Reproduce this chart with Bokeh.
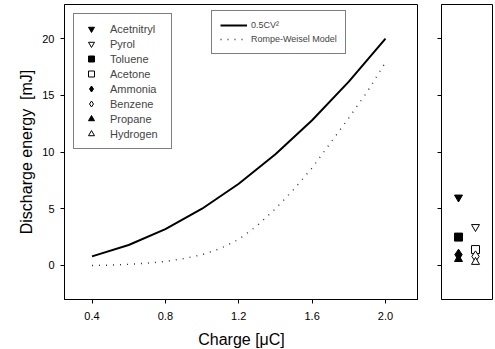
from bokeh.plotting import figure
from bokeh.layouts import row
from bokeh.models import Legend, LegendItem, FixedTicker, Range1d, ColumnDataSource
from bokeh.embed import file_html
from bokeh.resources import INLINE

# ---- data ----
charge_cv2 = [0.4, 0.6, 0.8, 1.0, 1.2, 1.4, 1.6, 1.8, 2.0]
energy_cv2 = [0.8, 1.8, 3.2, 5.0, 7.2, 9.8, 12.8, 16.2, 20.0]

charge_rw = [0.4, 0.5, 0.6, 0.7, 0.8, 0.9, 1.0, 1.1, 1.2, 1.3, 1.4, 1.5, 1.6, 1.7, 1.8, 1.9, 2.0]
energy_rw = [0.0, 0.03, 0.1, 0.2, 0.35, 0.6, 0.95, 1.5, 2.3, 3.5, 5.0, 6.7, 8.6, 10.8, 13.0, 15.3, 17.9]

gases = ["Acetnitryl", "Pyrol", "Toluene", "Acetone", "Ammonia", "Benzene", "Propane", "Hydrogen"]
gas_energy = [6.0, 3.4, 2.5, 1.4, 0.95, 0.8, 0.55, 0.3]
gas_marker = ["inverted_triangle", "inverted_triangle", "square", "square",
              "diamond", "diamond", "triangle", "triangle"]
gas_filled = [True, False, True, False, True, False, True, False]

x_ticks = [0.4, 0.8, 1.2, 1.6, 2.0]
x_tick_labels = ["0.4", "0.8", "1.2", "1.6", "2.0"]
y_ticks = [0, 5, 10, 15, 20]
y_tick_labels = ["0", "5", "10", "15", "20"]

FONT = "Liberation Sans"

src = ColumnDataSource(dict(
    name=gases,
    energy=gas_energy,
    marker=gas_marker,
    fill=["black" if f else "white" for f in gas_filled],
    size=[11 if m == "diamond" else 8 for m in gas_marker],
    xpos=[1 if f else 2 for f in gas_filled],
))

# ---- main plot ----
p1 = figure(width=410, height=349, x_range=Range1d(0.25, 2.18), y_range=Range1d(-3, 23),
            output_backend="svg", toolbar_location=None,
            min_border_left=56, min_border_right=0, min_border_top=0, min_border_bottom=54)
p1.xgrid.visible = False
p1.ygrid.visible = False
p1.outline_line_color = "black"
p1.outline_line_width = 1

for ax in (p1.xaxis[0], p1.yaxis[0]):
    ax.axis_line_color = "black"
    ax.major_tick_line_color = "black"
    ax.minor_tick_line_color = None
    ax.major_tick_out = 4
    ax.major_tick_in = 0
    ax.major_label_text_font = FONT
    ax.major_label_text_font_size = "11px"
    ax.major_label_text_color = "black"
    ax.axis_label_text_font = FONT
    ax.axis_label_text_font_size = "16px"
    ax.axis_label_text_font_style = "normal"
    ax.axis_label_text_color = "black"

p1.xaxis.ticker = FixedTicker(ticks=x_ticks)
p1.xaxis.major_label_overrides = dict(zip(x_ticks, x_tick_labels))
p1.yaxis.ticker = FixedTicker(ticks=y_ticks)
p1.yaxis.major_label_overrides = dict(zip(y_ticks, y_tick_labels))
p1.xaxis.axis_label = "Charge [\u03bcC]"
p1.yaxis.axis_label = "Discharge energy\u00a0\u00a0[mJ]"
p1.xaxis.major_label_standoff = 8
p1.xaxis.axis_label_standoff = 8
p1.yaxis.major_label_standoff = 6
p1.yaxis.axis_label_standoff = 4

r_cv2 = p1.line(charge_cv2, energy_cv2, line_color="black", line_width=2)
r_rw = p1.line(charge_rw, energy_rw, line_color="#333333", line_width=1.4, line_dash="1 6")

# hidden proxy renderer for the gas legend
r_proxy = p1.scatter(x="xpos", y="energy", marker="marker", fill_color="fill",
                     line_color="black", size="size", source=src, visible=False)

leg1 = Legend(items=[LegendItem(label=n, renderers=[r_proxy], index=i) for i, n in enumerate(gases)],
              location="top_left", margin=9, padding=7, spacing=0,
              glyph_width=20, glyph_height=15, label_height=15, label_width=54,
              label_standoff=9, label_text_font=FONT, label_text_font_size="11px",
              border_line_color="black", border_line_width=1, background_fill_alpha=1)
p1.add_layout(leg1, "center")

leg2 = Legend(items=[LegendItem(label="0.5CV\u00b2", renderers=[r_cv2]),
                     LegendItem(label="Rompe-Weisel Model", renderers=[r_rw])],
              location=(147, 245), margin=0, padding=8, spacing=2,
              glyph_width=27, glyph_height=12, label_height=12,
              label_standoff=4, label_text_font=FONT, label_text_font_size="9px",
              border_line_color="black", border_line_width=1, background_fill_alpha=1)
p1.add_layout(leg2, "center")

# ---- side panel ----
p2 = figure(width=76, height=349, x_range=Range1d(0, 3), y_range=p1.y_range,
            output_backend="svg", toolbar_location=None, x_axis_location=None,
            min_border_left=23, min_border_right=2, min_border_top=0, min_border_bottom=54)
p2.xgrid.visible = False
p2.ygrid.visible = False
p2.outline_line_color = "black"
p2.yaxis.ticker = FixedTicker(ticks=y_ticks)
p2.yaxis.major_label_overrides = {t: "" for t in y_ticks}
p2.yaxis.major_label_text_font_size = "0px"
p2.yaxis.minor_tick_line_color = None
p2.yaxis.major_tick_out = 4
p2.yaxis.major_tick_in = 0
p2.yaxis.axis_line_color = "black"
p2.yaxis.major_tick_line_color = "black"
p2.scatter(x="xpos", y="energy", marker="marker", fill_color="fill",
           line_color="black", size="size", source=src)

layout = row(p1, p2, margin=(4, 0, 0, 8))
open("out.html", "w").write(file_html(layout, INLINE))
